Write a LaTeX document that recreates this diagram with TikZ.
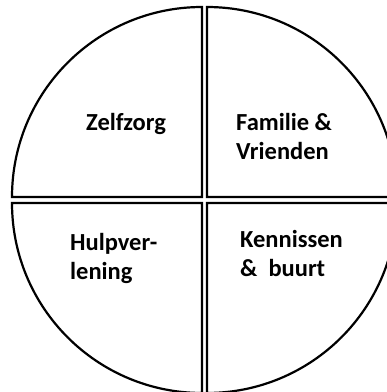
\documentclass[tikz,border=0pt]{standalone}
\usepackage{fontspec}
\setmainfont{Carlito}
\usetikzlibrary{positioning}
\tikzstyle{quarter} = [draw=black, line width=2.2pt, fill=white]
\tikzstyle{label} = [anchor=base west, inner sep=0pt, align=left, font=\bfseries\fontsize{24.5}{30}\selectfont]

\begin{document}
\begin{tikzpicture}[x=1pt, y=1pt]
      \useasboundingbox (0,0) rectangle (387,392);
      \clip (0,0) rectangle (387,392);

      % Quarters
      \draw [quarter] (202,195) -- (12,195) arc (180:90:190) -- cycle;
      \draw [quarter] (207,195) -- (207,385) arc (90:0:190) -- cycle;
      \draw [quarter] (202,189) -- (12,189) arc (180:270:190) -- cycle;
      \draw [quarter] (207,189) -- (397,189) arc (0:-90:190) -- cycle;

      % Labels
      \node (self) [label] at (86,261) {Zelfzorg};
      \node (family) [label] at (236,232) {Familie \&\\Vrienden};
      \node (care) [label] at (70,112) {Hulpver-\\lening};
      \node (friends) [label] at (240,115) {Kennissen\\\&~~buurt};
\end{tikzpicture}
\end{document}
